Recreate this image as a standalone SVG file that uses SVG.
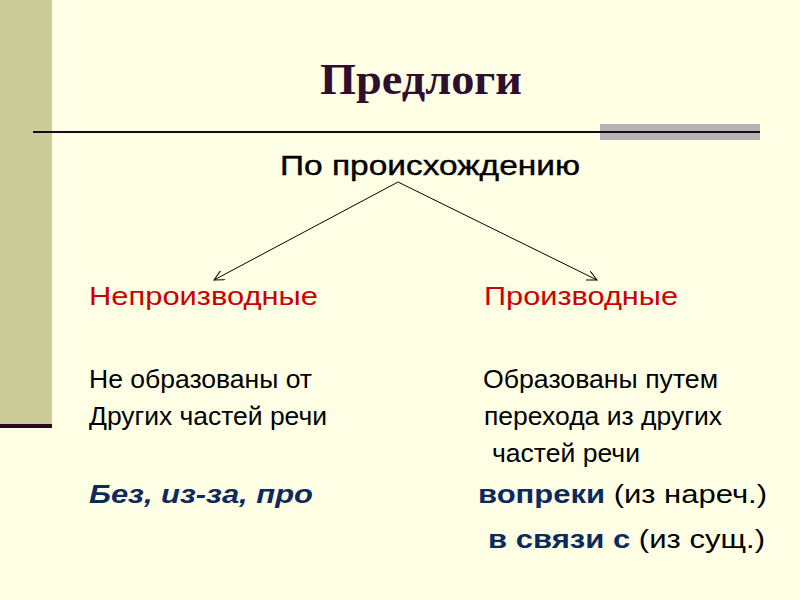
<svg xmlns="http://www.w3.org/2000/svg" width="800" height="600" viewBox="0 0 800 600">
<style>
text{font-family:"Liberation Sans",Arial,sans-serif;font-size:25px;fill:#000}
.red{fill:#cc0000}
.blue{fill:#0d2a5e;font-weight:bold}
</style>
<defs><marker id="a" markerWidth="12" markerHeight="12" refX="10" refY="5" orient="auto" markerUnits="userSpaceOnUse"><path d="M0,0 L10,5 L0,10" fill="none" stroke="#000" stroke-width="1"/></marker></defs>
<rect width="800" height="600" fill="#ffffe5"/>
<rect x="0" y="0" width="52" height="426" fill="#cccc99"/>
<rect x="0" y="424" width="52" height="4" fill="#2a0a22"/>
<rect x="600" y="124" width="160" height="16" fill="#b3b3b3"/>
<line x1="33" y1="132" x2="760" y2="132" stroke="#1a0a18" stroke-width="2"/>
<text x="320" y="94" textLength="202" lengthAdjust="spacingAndGlyphs" style="font-family:'Liberation Serif',serif;font-size:44px;font-weight:bold;fill:#2e0f2e">Предлоги</text>
<g id="root"><text x="280" y="175" textLength="300" lengthAdjust="spacingAndGlyphs" style="font-size:27px;stroke:#000;stroke-width:0.4">По происхождению</text></g>
<g id="connectors" stroke="#000" stroke-width="1" fill="none">
<line x1="398" y1="182" x2="214" y2="280" marker-end="url(#a)"/>
<line x1="398" y1="182" x2="597" y2="280" marker-end="url(#a)"/>
</g>
<g id="left">
<text x="89" y="305" class="red" textLength="229" lengthAdjust="spacingAndGlyphs">Непроизводные</text>
<text x="89" y="388" textLength="223" lengthAdjust="spacingAndGlyphs">Не образованы от</text>
<text x="89" y="425" textLength="238" lengthAdjust="spacingAndGlyphs">Других частей речи</text>
<text x="89" y="503" class="blue" style="font-style:italic" textLength="224" lengthAdjust="spacingAndGlyphs">Без, из-за, про</text>
</g>
<g id="right">
<text x="484" y="305" class="red" textLength="194" lengthAdjust="spacingAndGlyphs">Производные</text>
<text x="483" y="388" textLength="235" lengthAdjust="spacingAndGlyphs">Образованы путем</text>
<text x="484" y="425" textLength="238" lengthAdjust="spacingAndGlyphs">перехода из других</text>
<text x="492" y="462" textLength="148" lengthAdjust="spacingAndGlyphs">частей речи</text>
<text x="478" y="503" textLength="289" lengthAdjust="spacingAndGlyphs"><tspan class="blue">вопреки</tspan> (из нареч.)</text>
<text x="488" y="548" textLength="277" lengthAdjust="spacingAndGlyphs"><tspan class="blue">в связи с</tspan> (из сущ.)</text>
</g>
</svg>
